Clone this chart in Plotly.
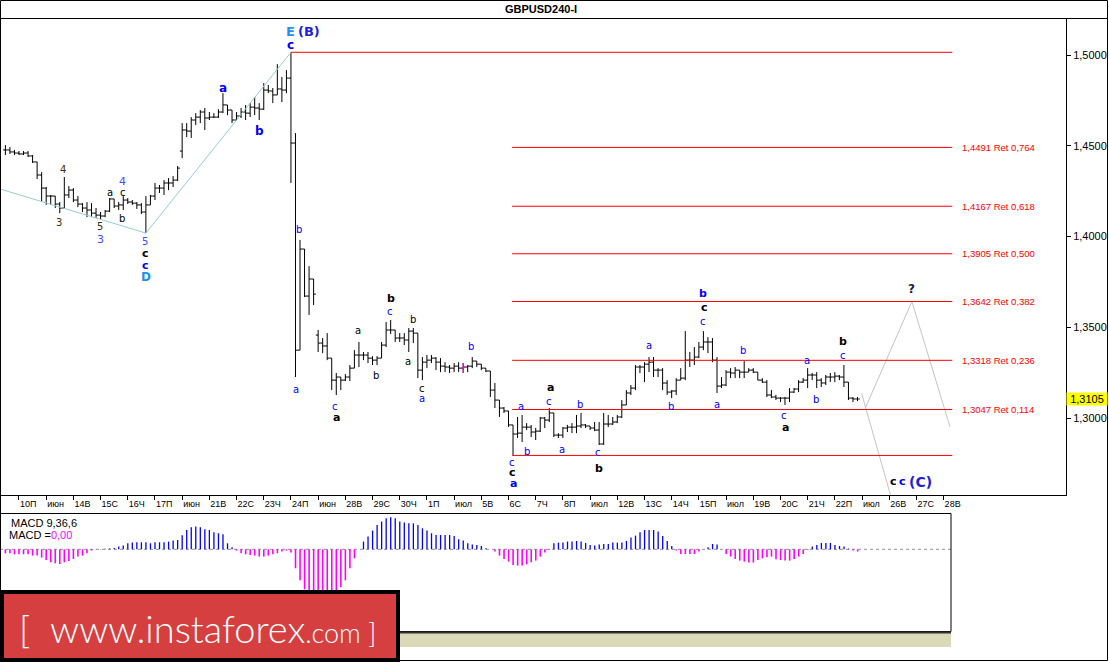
import plotly.graph_objects as go

W, H = 1109, 662


def px(x):
    return x / W


def py(y):
    return 1 - y / H


title_text = "GBPUSD240-I"

day_labels = ["10П", "июн", "14В", "15С", "16Ч", "17П", "июн", "21В", "22С", "23Ч",
              "24П", "июн", "28В", "29С", "30Ч", "1П", "июл", "5В", "6С", "7Ч",
              "8П", "июл", "12В", "13С", "14Ч", "15П", "июл", "19В", "20С", "21Ч",
              "22П", "июл", "26В", "27С", "28В"]
bars_per_day = 6

bar_index = list(range(-3, 186))

opens = [
    1.4477, 1.4477, 1.4466, 1.4460, 1.4455, 1.4460, 1.4444, 1.4411, 1.4339, 1.4267,
    1.4223, 1.4223, 1.4179, 1.4157, 1.4229, 1.4256, 1.4201, 1.4179, 1.4157, 1.4146,
    1.4129, 1.4118, 1.4113, 1.4140, 1.4207, 1.4168, 1.4174, 1.4201, 1.4190, 1.4184,
    1.4174, 1.4135, 1.4174, 1.4223, 1.4267, 1.4267, 1.4295, 1.4295, 1.4311, 1.4471,
    1.4587, 1.4581, 1.4642, 1.4658, 1.4686, 1.4653, 1.4658, 1.4658, 1.4686, 1.4725,
    1.4697, 1.4642, 1.4664, 1.4686, 1.4680, 1.4713, 1.4708, 1.4702, 1.4807, 1.4802,
    1.4780, 1.4813, 1.4807, 1.4873, 1.4515, 1.3374, 1.3931, 1.3672, 1.3766, 1.3457,
    1.3413, 1.3397, 1.3330, 1.3209, 1.3226, 1.3209, 1.3226, 1.3275, 1.3347, 1.3347,
    1.3347, 1.3330, 1.3319, 1.3330, 1.3402, 1.3485, 1.3485, 1.3441, 1.3441, 1.3430,
    1.3479, 1.3468, 1.3264, 1.3308, 1.3319, 1.3330, 1.3308, 1.3286, 1.3281, 1.3275,
    1.3286, 1.3275, 1.3281, 1.3286, 1.3314, 1.3297, 1.3275, 1.3259, 1.3154, 1.3099,
    1.3055, 1.3039, 1.2962, 1.2912, 1.2917, 1.2950, 1.2950, 1.2923, 1.2928, 1.3000,
    1.2989, 1.3028, 1.2906, 1.2906, 1.2945, 1.2950, 1.2950, 1.2956, 1.2962, 1.2956,
    1.2945, 1.2934, 1.2857, 1.2967, 1.2967, 1.2978, 1.3006, 1.3072, 1.3138, 1.3165,
    1.3281, 1.3281, 1.3297, 1.3308, 1.3264, 1.3264, 1.3193, 1.3143, 1.3149, 1.3209,
    1.3220, 1.3319, 1.3319, 1.3336, 1.3391, 1.3419, 1.3419, 1.3319, 1.3176, 1.3182,
    1.3253, 1.3248, 1.3264, 1.3253, 1.3253, 1.3264, 1.3253, 1.3209, 1.3198, 1.3127,
    1.3116, 1.3110, 1.3110, 1.3110, 1.3143, 1.3160, 1.3198, 1.3209, 1.3237, 1.3237,
    1.3209, 1.3193, 1.3226, 1.3226, 1.3231, 1.3226, 1.3198, 1.3110, 1.3105,
]

highs = [
    1.4504, 1.4493, 1.4477, 1.4471, 1.4471, 1.4471, 1.4449, 1.4411, 1.4355, 1.4273,
    1.4229, 1.4223, 1.4190, 1.4328, 1.4278, 1.4267, 1.4223, 1.4184, 1.4190, 1.4184,
    1.4157, 1.4135, 1.4146, 1.4212, 1.4207, 1.4190, 1.4223, 1.4212, 1.4201, 1.4190,
    1.4184, 1.4223, 1.4229, 1.4295, 1.4284, 1.4311, 1.4322, 1.4333, 1.4388, 1.4625,
    1.4625, 1.4658, 1.4680, 1.4697, 1.4708, 1.4686, 1.4680, 1.4702, 1.4790, 1.4725,
    1.4697, 1.4686, 1.4708, 1.4725, 1.4735, 1.4769, 1.4735, 1.4845, 1.4835, 1.4818,
    1.4950, 1.4879, 1.4917, 1.5015, 1.4570, 1.3981, 1.3931, 1.3837, 1.3766, 1.3485,
    1.3441, 1.3468, 1.3330, 1.3248, 1.3226, 1.3242, 1.3292, 1.3374, 1.3419, 1.3364,
    1.3364, 1.3341, 1.3341, 1.3419, 1.3529, 1.3540, 1.3485, 1.3468, 1.3468, 1.3496,
    1.3496, 1.3468, 1.3336, 1.3347, 1.3347, 1.3336, 1.3330, 1.3308, 1.3292, 1.3303,
    1.3308, 1.3303, 1.3292, 1.3336, 1.3314, 1.3297, 1.3275, 1.3259, 1.3193, 1.3099,
    1.3061, 1.3039, 1.2962, 1.3006, 1.3017, 1.2972, 1.2962, 1.2945, 1.3006, 1.3006,
    1.3055, 1.3028, 1.2917, 1.2950, 1.2962, 1.2972, 1.3017, 1.3028, 1.2967, 1.2956,
    1.2978, 1.2978, 1.3028, 1.3017, 1.3006, 1.3017, 1.3099, 1.3154, 1.3182, 1.3292,
    1.3292, 1.3308, 1.3336, 1.3336, 1.3275, 1.3275, 1.3209, 1.3154, 1.3220, 1.3275,
    1.3479, 1.3364, 1.3391, 1.3419, 1.3479, 1.3446, 1.3441, 1.3336, 1.3226, 1.3264,
    1.3275, 1.3281, 1.3264, 1.3314, 1.3275, 1.3275, 1.3253, 1.3220, 1.3209, 1.3154,
    1.3127, 1.3116, 1.3116, 1.3165, 1.3165, 1.3209, 1.3220, 1.3275, 1.3248, 1.3253,
    1.3220, 1.3237, 1.3248, 1.3253, 1.3237, 1.3292, 1.3198, 1.3116, 1.3116,
]

lows = [
    1.4449, 1.4455, 1.4449, 1.4449, 1.4449, 1.4438, 1.4405, 1.4317, 1.4190, 1.4174,
    1.4174, 1.4157, 1.4129, 1.4152, 1.4212, 1.4190, 1.4162, 1.4135, 1.4107, 1.4107,
    1.4102, 1.4096, 1.4107, 1.4135, 1.4157, 1.4146, 1.4146, 1.4179, 1.4174, 1.4152,
    1.4124, 1.4019, 1.4174, 1.4201, 1.4240, 1.4229, 1.4256, 1.4273, 1.4306, 1.4432,
    1.4548, 1.4543, 1.4614, 1.4625, 1.4587, 1.4642, 1.4653, 1.4653, 1.4680, 1.4669,
    1.4625, 1.4642, 1.4653, 1.4642, 1.4658, 1.4669, 1.4642, 1.4697, 1.4790, 1.4735,
    1.4780, 1.4741, 1.4790, 1.4295, 1.3226, 1.3374, 1.3667, 1.3568, 1.3623, 1.3364,
    1.3358, 1.3319, 1.3154, 1.3127, 1.3154, 1.3204, 1.3204, 1.3275, 1.3281, 1.3319,
    1.3303, 1.3292, 1.3292, 1.3330, 1.3391, 1.3463, 1.3419, 1.3419, 1.3402, 1.3364,
    1.3413, 1.3220, 1.3209, 1.3275, 1.3303, 1.3264, 1.3253, 1.3253, 1.3248, 1.3253,
    1.3253, 1.3248, 1.3253, 1.3275, 1.3281, 1.3264, 1.3253, 1.3116, 1.3055, 1.3006,
    1.3028, 1.2951, 1.2796, 1.2890, 1.2868, 1.2934, 1.2895, 1.2879, 1.2923, 1.2945,
    1.2978, 1.2895, 1.2890, 1.2890, 1.2923, 1.2917, 1.2917, 1.2945, 1.2945, 1.2934,
    1.2928, 1.2852, 1.2852, 1.2950, 1.2962, 1.2972, 1.3000, 1.3072, 1.3127, 1.3154,
    1.3248, 1.3198, 1.3253, 1.3226, 1.3226, 1.3154, 1.3127, 1.3110, 1.3127, 1.3209,
    1.3209, 1.3281, 1.3292, 1.3330, 1.3374, 1.3358, 1.3308, 1.3138, 1.3165, 1.3176,
    1.3220, 1.3220, 1.3220, 1.3220, 1.3253, 1.3248, 1.3209, 1.3193, 1.3116, 1.3110,
    1.3099, 1.3088, 1.3072, 1.3088, 1.3138, 1.3143, 1.3193, 1.3165, 1.3209, 1.3165,
    1.3171, 1.3182, 1.3198, 1.3198, 1.3209, 1.3171, 1.3099, 1.3088, 1.3094,
]

closes = [
    1.4477, 1.4466, 1.4460, 1.4455, 1.4460, 1.4444, 1.4411, 1.4339, 1.4267, 1.4223,
    1.4223, 1.4179, 1.4157, 1.4229, 1.4256, 1.4201, 1.4179, 1.4157, 1.4146, 1.4129,
    1.4118, 1.4113, 1.4140, 1.4207, 1.4168, 1.4174, 1.4201, 1.4190, 1.4184, 1.4174,
    1.4135, 1.4174, 1.4223, 1.4267, 1.4267, 1.4295, 1.4295, 1.4311, 1.4377, 1.4587,
    1.4581, 1.4642, 1.4658, 1.4686, 1.4653, 1.4658, 1.4658, 1.4686, 1.4725, 1.4697,
    1.4642, 1.4664, 1.4686, 1.4680, 1.4713, 1.4708, 1.4702, 1.4807, 1.4802, 1.4780,
    1.4813, 1.4807, 1.4873, 1.4515, 1.3374, 1.3931, 1.3672, 1.3766, 1.3683, 1.3413,
    1.3397, 1.3330, 1.3209, 1.3226, 1.3209, 1.3226, 1.3275, 1.3347, 1.3347, 1.3347,
    1.3330, 1.3319, 1.3330, 1.3402, 1.3485, 1.3485, 1.3441, 1.3441, 1.3430, 1.3479,
    1.3468, 1.3264, 1.3308, 1.3319, 1.3330, 1.3308, 1.3286, 1.3281, 1.3275, 1.3286,
    1.3275, 1.3281, 1.3286, 1.3314, 1.3297, 1.3275, 1.3259, 1.3154, 1.3099, 1.3055,
    1.3039, 1.2962, 1.2912, 1.2917, 1.2950, 1.2950, 1.2923, 1.2928, 1.3000, 1.2989,
    1.3028, 1.2906, 1.2906, 1.2945, 1.2950, 1.2950, 1.2956, 1.2962, 1.2956, 1.2945,
    1.2934, 1.2857, 1.2967, 1.2967, 1.2978, 1.3006, 1.3072, 1.3138, 1.3165, 1.3281,
    1.3281, 1.3297, 1.3308, 1.3264, 1.3264, 1.3193, 1.3143, 1.3149, 1.3209, 1.3220,
    1.3319, 1.3319, 1.3336, 1.3391, 1.3419, 1.3419, 1.3319, 1.3176, 1.3182, 1.3253,
    1.3248, 1.3264, 1.3253, 1.3253, 1.3264, 1.3253, 1.3209, 1.3198, 1.3127, 1.3116,
    1.3110, 1.3110, 1.3110, 1.3143, 1.3160, 1.3198, 1.3209, 1.3237, 1.3237, 1.3209,
    1.3193, 1.3226, 1.3226, 1.3231, 1.3226, 1.3198, 1.3110, 1.3105, 1.3105,
]

macd_values = [
    -0.0040, -0.0040, -0.0050, -0.0050, -0.0050, -0.0050, -0.0063, -0.0063, -0.0083, -0.0107,
    -0.0130, -0.0140, -0.0147, -0.0130, -0.0117, -0.0097, -0.0073, -0.0063, -0.0040, -0.0013,
    -0.0003, 0.0003, 0.0005, 0.0007, 0.0013, 0.0027, 0.0037, 0.0060, 0.0067, 0.0070,
    0.0070, 0.0070, 0.0060, 0.0070, 0.0070, 0.0070, 0.0077, 0.0087, 0.0093, 0.0140,
    0.0193, 0.0220, 0.0227, 0.0220, 0.0200, 0.0193, 0.0170, 0.0160, 0.0150, 0.0060,
    0.0020, -0.0013, -0.0040, -0.0050, -0.0057, -0.0063, -0.0073, -0.0073, -0.0063, -0.0050,
    -0.0040, -0.0023, -0.0013, -0.0033, -0.0190, -0.0310, -0.0400, -0.0460, -0.0500, -0.0520,
    -0.0520, -0.0500, -0.0470, -0.0430, -0.0380, -0.0310, -0.0190, -0.0090, 0.0000, 0.0077,
    0.0127, 0.0187, 0.0243, 0.0277, 0.0310, 0.0320, 0.0310, 0.0277, 0.0267, 0.0260,
    0.0260, 0.0243, 0.0210, 0.0187, 0.0160, 0.0143, 0.0143, 0.0143, 0.0143, 0.0133,
    0.0100, 0.0087, 0.0060, 0.0047, 0.0043, 0.0033, 0.0010, 0.0000, -0.0023, -0.0063,
    -0.0097, -0.0123, -0.0157, -0.0163, -0.0163, -0.0150, -0.0130, -0.0113, -0.0073, -0.0033,
    -0.0007, 0.0060, 0.0067, 0.0067, 0.0077, 0.0077, 0.0083, 0.0077, 0.0063, 0.0043,
    0.0037, 0.0047, 0.0053, 0.0053, 0.0067, 0.0067, 0.0067, 0.0083, 0.0117, 0.0137,
    0.0170, 0.0193, 0.0193, 0.0193, 0.0177, 0.0133, 0.0083, 0.0033, -0.0013, -0.0047,
    -0.0047, -0.0047, -0.0047, -0.0023, 0.0000, 0.0020, 0.0053, 0.0047, 0.0000, -0.0047,
    -0.0073, -0.0097, -0.0113, -0.0123, -0.0133, -0.0133, -0.0107, -0.0090, -0.0080, -0.0073,
    -0.0100, -0.0107, -0.0113, -0.0113, -0.0097, -0.0073, -0.0047, -0.0007, 0.0027, 0.0043,
    0.0063, 0.0063, 0.0063, 0.0043, 0.0033, 0.0027, 0.0007, -0.0013, -0.0023,
]

highlight_bar = 98

fib_levels = [1.5015, 1.4491, 1.4167, 1.3905, 1.3642, 1.3318, 1.3047, 1.2794]
fib_ratios = [1.000, 0.764, 0.618, 0.500, 0.382, 0.236, 0.114, 0.000]
fib_from_bar = [60, 108.8, 108.8, 108.8, 108.8, 108.8, 108.8, 108.8]
fib_to_bar = 205.9

price_ticks = [1.30, 1.35, 1.40, 1.45, 1.50]
last_price = 1.3105

trend_bars = [-4.19, 28, 60]
trend_prices = [1.4262, 1.4019, 1.5015]
proj_down_bars = [185.9, 192.6]
proj_down_prices = [1.3136, 1.2548]
proj_up_bars = [186.7, 197.0, 205.4]
proj_up_prices = [1.3053, 1.3642, 1.2952]

BLUE = "#0000ff"
BLK = "#000000"
LB = "#1e90f0"
DB = "#2020d8"
PURP = "#4848ff"
BRN = "#4a2a0a"

# (x px, y px, text, colour, size, bold)
wave_labels = [
    (290.7, 31.5, "E", LB, 13, True),
    (308.5, 31.5, "(B)", DB, 13, True),
    (290.7, 45, "c", BLUE, 12, True),
    (222.7, 87.7, "a", BLUE, 12, True),
    (259, 131, "b", BLUE, 12, True),
    (63.3, 169.3, "4", BRN, 10, False),
    (59.3, 222.7, "3", BRN, 10, False),
    (100, 226.7, "5", BRN, 10, False),
    (100, 239.5, "3", PURP, 11, False),
    (109.7, 192.7, "a", BLK, 10, False),
    (122.7, 192.5, "c", BLK, 10, False),
    (122.3, 181.8, "4", PURP, 11, False),
    (122.3, 218.3, "b", BLK, 10, False),
    (145, 241.5, "5", PURP, 10, False),
    (145.7, 253, "c", BLK, 11, True),
    (145.7, 265.7, "c", BLUE, 11, True),
    (145.7, 276.5, "D", LB, 12, True),
    (299.3, 229.3, "b", BLUE, 10, False),
    (295.5, 389.3, "a", BLUE, 10, False),
    (335, 406.7, "c", BLUE, 10, False),
    (336, 417.3, "a", BLK, 11, True),
    (358.3, 330.7, "a", BLK, 10, False),
    (376.3, 375.7, "b", BLK, 10, False),
    (390.7, 298.3, "b", BLK, 11, True),
    (390.3, 311.7, "c", BLUE, 10, False),
    (413, 319.3, "b", BLK, 10, False),
    (408.3, 361.7, "a", BLK, 10, False),
    (422.3, 388.3, "c", BLK, 10, False),
    (422.3, 398.3, "a", BLUE, 10, False),
    (471, 346, "b", BLUE, 10, False),
    (521.3, 406, "a", BLUE, 10, False),
    (526.5, 451.5, "b", BLUE, 10, False),
    (512.3, 462.3, "c", BLUE, 10, False),
    (512.7, 472.7, "c", BLK, 11, True),
    (513, 483.3, "a", BLUE, 11, True),
    (550, 387.7, "a", BLK, 11, True),
    (549.3, 401.7, "c", BLUE, 10, False),
    (580, 404.3, "b", BLUE, 10, False),
    (562.3, 449.3, "a", BLUE, 10, False),
    (598.3, 452.3, "c", BLUE, 10, False),
    (599, 468.3, "b", BLK, 11, True),
    (649, 345.7, "a", BLUE, 10, False),
    (671, 406.7, "b", BLUE, 10, False),
    (703.3, 293.3, "b", BLUE, 11, True),
    (704, 307.7, "c", BLK, 11, True),
    (703.3, 321.7, "c", BLUE, 10, False),
    (716.7, 404.3, "a", BLUE, 10, False),
    (743.3, 350, "b", BLUE, 10, False),
    (784.3, 415, "c", BLUE, 10, False),
    (785, 427.3, "a", BLK, 11, True),
    (807.3, 360.7, "a", BLUE, 10, False),
    (816, 399, "b", BLUE, 10, False),
    (843.3, 341.7, "b", BLK, 11, True),
    (843.3, 355, "c", BLUE, 10, False),
    (911.7, 289.3, "?", "#1c1c38", 12, True),
    (893.7, 481.7, "c", BLK, 11, True),
    (902.7, 481.7, "c", BLUE, 11, True),
    (920, 481.7, "(C)", DB, 14, True),
]

# ---------------------------------------------------------------- figure
fig = go.Figure()

# trend / projection lines
fig.add_trace(go.Scatter(x=trend_bars, y=trend_prices, mode="lines",
                         line=dict(color="#99cccc", width=1),
                         hoverinfo="skip", showlegend=False, xaxis="x", yaxis="y"))
fig.add_trace(go.Scatter(x=proj_down_bars, y=proj_down_prices, mode="lines",
                         line=dict(color="#c4c4c4", width=1),
                         hoverinfo="skip", showlegend=False, xaxis="x", yaxis="y"))
fig.add_trace(go.Scatter(x=proj_up_bars, y=proj_up_prices, mode="lines",
                         line=dict(color="#c4c4c4", width=1),
                         hoverinfo="skip", showlegend=False, xaxis="x", yaxis="y"))

# fibonacci levels
for lvl, start in zip(fib_levels, fib_from_bar):
    fig.add_trace(go.Scatter(x=[start, fib_to_bar], y=[lvl, lvl], mode="lines",
                             line=dict(color="#ff0000", width=1),
                             hoverinfo="skip", showlegend=False, xaxis="x", yaxis="y"))

# price bars
fig.add_trace(go.Ohlc(
    x=bar_index, open=opens, high=highs, low=lows, close=closes,
    increasing=dict(line=dict(color="black", width=1)),
    decreasing=dict(line=dict(color="black", width=1)),
    tickwidth=0.5, hoverinfo="skip", showlegend=False, xaxis="x", yaxis="y"))

j = bar_index.index(highlight_bar)
fig.add_trace(go.Scatter(
    x=[highlight_bar, highlight_bar, None, highlight_bar - 0.5, highlight_bar, None,
       highlight_bar, highlight_bar + 0.5],
    y=[highs[j], lows[j], None, opens[j], opens[j], None, closes[j], closes[j]],
    mode="lines", line=dict(color="#ff00ff", width=1),
    hoverinfo="skip", showlegend=False, xaxis="x", yaxis="y"))

# MACD histogram
pos_x, pos_y, neg_x, neg_y = [], [], [], []
for b, v in zip(bar_index, macd_values):
    if v >= 0:
        pos_x += [b, b, None]
        pos_y += [0, v, None]
    else:
        neg_x += [b, b, None]
        neg_y += [0, v, None]
fig.add_trace(go.Scatter(x=[-4.19, 205.6], y=[0, 0], mode="lines",
                         line=dict(color="#909090", width=1, dash="dot"),
                         hoverinfo="skip", showlegend=False, xaxis="x2", yaxis="y2"))
fig.add_trace(go.Scatter(x=pos_x, y=pos_y, mode="lines",
                         line=dict(color="#0000ff", width=1.3),
                         hoverinfo="skip", showlegend=False, xaxis="x2", yaxis="y2"))
fig.add_trace(go.Scatter(x=neg_x, y=neg_y, mode="lines",
                         line=dict(color="#ff00ff", width=1.6),
                         hoverinfo="skip", showlegend=False, xaxis="x2", yaxis="y2"))

# ---------------------------------------------------------------- layout
shapes = [
    # outer frame
    dict(type="rect", xref="paper", yref="paper", x0=px(0.5), x1=px(1107.5),
         y0=py(660.5), y1=py(0.5), line=dict(color="black", width=1)),
    # title separator
    dict(type="line", xref="paper", yref="paper", x0=0, x1=px(1107.5),
         y0=py(18.5), y1=py(18.5), line=dict(color="black", width=1)),
    # macd panel box
    dict(type="rect", xref="paper", yref="paper", x0=px(0.5), x1=px(951),
         y0=py(631.5), y1=py(513.5), line=dict(color="black", width=1)),
    # hatch strip
    dict(type="rect", xref="paper", yref="paper", x0=0, x1=px(951),
         y0=py(647), y1=py(633), line=dict(width=0), fillcolor="#dadab8"),
    dict(type="line", xref="paper", yref="paper", x0=0, x1=px(951),
         y0=py(632.5), y1=py(632.5), line=dict(color="#303030", width=2)),
    # logo box
    dict(type="rect", xref="paper", yref="paper", x0=px(2), x1=px(398),
         y0=py(660), y1=py(592), line=dict(color="black", width=4),
         fillcolor="#d63f3f"),
]

annotations = [
    dict(x=px(541), y=py(9.5), xref="paper", yref="paper", text="<b>" + title_text + "</b>",
         showarrow=False, font=dict(family="Liberation Sans", size=11, color="black"),
         xanchor="center", yanchor="middle"),
    dict(x=px(9), y=py(523), xref="paper", yref="paper", text="MACD 9,36,6",
         showarrow=False, font=dict(family="Liberation Sans", size=11, color="black"),
         xanchor="left", yanchor="middle"),
    dict(x=px(7), y=py(535), xref="paper", yref="paper",
         text="MACD =<span style='color:#ff00ff'>0,00</span>",
         showarrow=False, font=dict(family="Liberation Sans", size=11, color="black"),
         xanchor="left", yanchor="middle"),
    dict(x=px(1086.5), y=last_price, xref="paper", yref="y",
         text=f"{last_price:.4f}".replace(".", ","), showarrow=False,
         font=dict(family="Liberation Sans", size=11, color="black"),
         bgcolor="#ffff00", width=40, height=12, borderpad=0,
         xanchor="center", yanchor="middle"),
    dict(x=px(17), y=py(628), xref="paper", yref="paper",
         text="[&nbsp;&nbsp;www.instaforex<span style='font-size:27px'>.com&nbsp;]</span>",
         showarrow=False, font=dict(family="Lato", size=38, color="white", weight=300),
         xanchor="left", yanchor="middle"),
]

for lvl, r in zip(fib_levels, fib_ratios):
    if 0 < r < 1:
        annotations.append(dict(
            x=px(960), y=lvl, xref="paper", yref="y",
            text=f"{lvl:.4f} Ret {r:.3f}".replace(".", ","), showarrow=False,
            font=dict(family="Liberation Sans", size=9.5, color="#ff0000"),
            xanchor="left", yanchor="middle"))

for (x, y, t, c, s, b) in wave_labels:
    annotations.append(dict(
        x=px(x), y=py(y), xref="paper", yref="paper", text=t, showarrow=False,
        font=dict(family="DejaVu Sans", size=s, color=c, weight="bold" if b else "normal"),
        xanchor="center", yanchor="middle"))

fig.update_layout(
    width=W, height=H, margin=dict(l=0, r=0, t=0, b=0),
    paper_bgcolor="white", plot_bgcolor="white",
    separators=",.", showlegend=False,
    xaxis=dict(domain=[0, px(1066)], range=[-4.19, 231.0], anchor="y",
               showline=True, linecolor="black", linewidth=1, mirror=False,
               ticks="outside", ticklen=4, tickcolor="black",
               tickvals=[k * bars_per_day for k in range(len(day_labels))],
               ticktext=day_labels, ticklabelposition="outside right",
               tickfont=dict(family="Liberation Sans", size=9, color="black"),
               showgrid=False, zeroline=False, fixedrange=True,
               rangeslider=dict(visible=False)),
    yaxis=dict(domain=[py(495), py(18)], range=[1.2576, 1.5204], anchor="x",
               side="right", showline=True, linecolor="black", linewidth=1,
               ticks="outside", ticklen=4, tickcolor="black",
               tickvals=price_ticks, tickformat=".4f",
               tickfont=dict(family="Liberation Sans", size=11, color="black"),
               showgrid=False, zeroline=False, fixedrange=True),
    xaxis2=dict(domain=[0, px(951)], range=[-4.19, 205.6], anchor="y2",
                visible=False, fixedrange=True),
    yaxis2=dict(domain=[py(632), py(514)], range=[-0.0827, 0.0353], anchor="x2",
                visible=False, fixedrange=True),
    shapes=shapes, annotations=annotations,
)

fig.write_html("out.html",
               config=dict(displayModeBar=False),
               post_script="document.body.style.margin='0';document.body.style.overflow='hidden';")
